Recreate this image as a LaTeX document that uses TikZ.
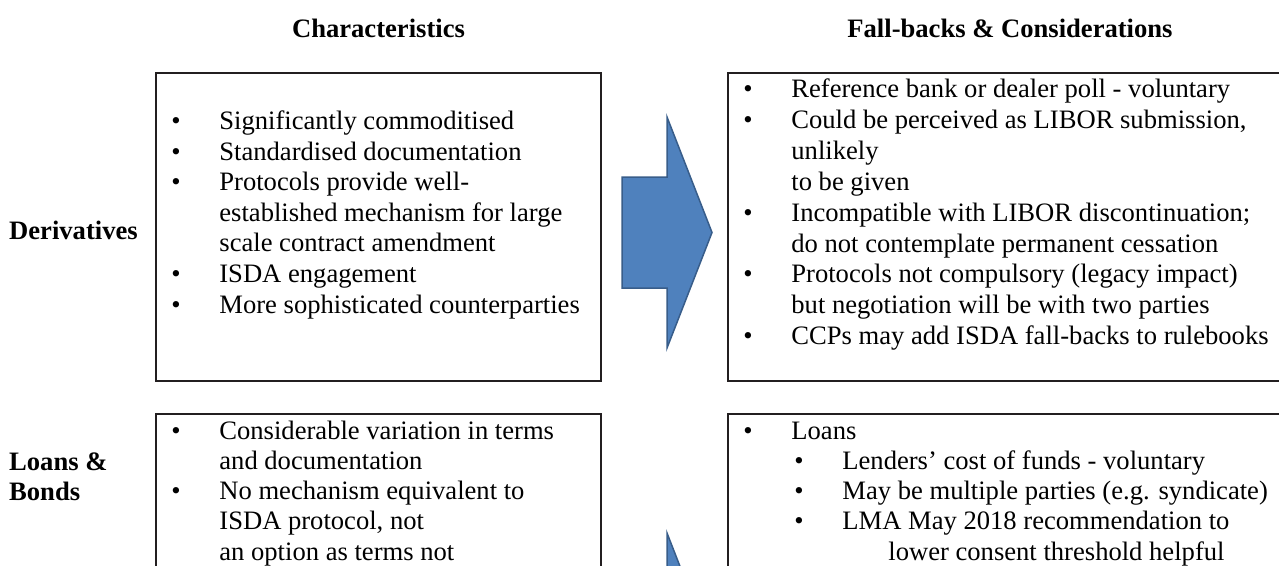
\documentclass[tikz,border=0pt]{standalone}
\usepackage{fontspec}
\setmainfont{Liberation Serif}
\definecolor{boxline}{RGB}{35,31,32}
\definecolor{arrowfill}{RGB}{79,129,189}
\definecolor{arrowline}{RGB}{56,93,138}
\newcommand{\bl}{\makebox[48pt][l]{\textbullet}}
\newcommand{\ind}{\hspace*{48pt}}
\tikzset{
  panel/.style={draw=boxline, line width=2pt, rectangle, inner sep=0pt, outer sep=0pt, anchor=north west},
  listtext/.style={inner sep=0pt, outer sep=0pt, anchor=base west, font=\fontsize{26.6}{30.6}\selectfont},
  heading/.style={inner sep=0pt, font=\fontsize{26.6}{30.6}\selectfont\bfseries},
  bigarrow/.style={fill=arrowfill, draw=arrowline, line width=1.5pt, line join=miter}
}
\begin{document}
\begin{tikzpicture}[x=1pt, y=-1pt]
\useasboundingbox (0,0) rectangle (1279,565);
\fill[white] (0,0) rectangle (1279,565);

% headings
\node[heading] (hc) at (378.5,28) {Characteristics};
\node[heading] (hf) at (1010,28) {Fall-backs \& Considerations};

% row labels
\node[heading, anchor=west] (lder) at (9,230) {Derivatives};
\node[heading, anchor=base west] (lloans) at (9,470) {\begin{tabular}[t]{@{}l@{}}Loans \&\\Bonds\end{tabular}};

% panels
\node[panel, minimum width=445pt, minimum height=308pt] (d1) at (156,73) {};
\node[panel, minimum width=564pt, minimum height=308pt] (d2) at (728,73) {};
\node[panel, minimum width=445pt, minimum height=220pt] (b1) at (156,414) {};
\node[panel, minimum width=564pt, minimum height=220pt] (b2) at (728,414) {};

% texts
\node[listtext] (t1) at (171.4,129.5) {\begin{tabular}[t]{@{}l@{}}
\bl Significantly commoditised\\
\bl Standardised documentation\\
\bl Protocols provide well-\\
\ind established mechanism for large\\
\ind scale contract amendment\\
\bl ISDA engagement\\
\bl More sophisticated counterparties
\end{tabular}};

\node[listtext, font=\fontsize{26.6}{30.9}\selectfont] (t2) at (743.4,97.5) {\begin{tabular}[t]{@{}l@{}}
\bl Reference bank or dealer poll - voluntary\\
\bl Could be perceived as LIBOR submission,\\
\ind unlikely\\
\ind to be given\\
\bl Incompatible with LIBOR discontinuation;\\
\ind do not contemplate permanent cessation\\
\bl Protocols not compulsory (legacy impact)\\
\ind but negotiation will be with two parties\\
\bl CCPs may add ISDA fall-backs to rulebooks
\end{tabular}};

\node[listtext, font=\fontsize{26.6}{30.25}\selectfont] (t3) at (171.4,439) {\begin{tabular}[t]{@{}l@{}}
\bl Considerable variation in terms\\
\ind and documentation\\
\bl No mechanism equivalent to\\
\ind ISDA protocol, not\\
\ind an option as terms not
\end{tabular}};

\node[listtext, font=\fontsize{26.6}{30.25}\selectfont] (t4) at (743.4,439) {\begin{tabular}[t]{@{}l@{}}
\bl Loans\\
\hspace*{51pt}\bl Lenders’ cost of funds - voluntary\\
\hspace*{51pt}\bl May be multiple parties (e.g. syndicate)\\
\hspace*{51pt}\bl LMA May 2018 recommendation to\\
\hspace*{145pt}lower consent threshold helpful
\end{tabular}};

% block arrows
\draw[bigarrow] (622,177) -- (667,177) -- (667,117) -- (712,232.5) -- (667,348) -- (667,288) -- (622,288) -- cycle;
\begin{scope}[yshift=-416pt]
\draw[bigarrow] (622,177) -- (667,177) -- (667,117) -- (712,232.5) -- (667,348) -- (667,288) -- (622,288) -- cycle;
\end{scope}
\end{tikzpicture}
\end{document}
